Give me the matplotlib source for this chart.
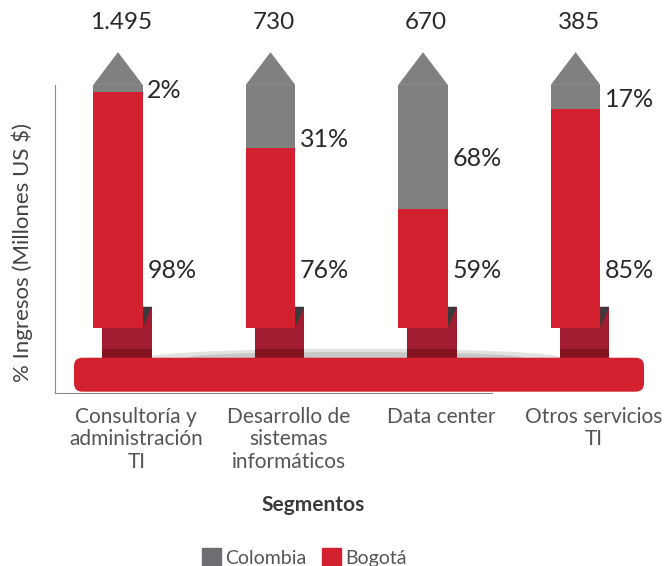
import matplotlib
matplotlib.use("Agg")
import matplotlib.pyplot as plt
from matplotlib.patches import Polygon, Rectangle, FancyBboxPatch, Ellipse
import numpy as np

# data
segments = ["Consultoría y\nadministración\nTI", "Desarrollo de\nsistemas\ninformáticos",
            "Data center", "Otros servicios\nTI"]
totals = ["1.495", "730", "670", "385"]
colombia_pct = [2, 31, 68, 17]
bogota_pct = [98, 76, 59, 85]
gray_share = [3, 26, 51, 10]      # drawn height of the gray part (% of bar body)

RED = "#D2202F"
GRAY = "#808080"
TXT = "#2a2a2a"

plt.rcParams['font.family'] = ['Lato', 'DejaVu Sans']

fig = plt.figure(figsize=(6.66, 5.66), dpi=100)
ax = fig.add_axes([55/666, (566-393)/566, (666-55)/666, 393/566])
ax.patch.set_visible(False)

# 1 x unit = 152.5 px, 1 y unit = 2.427 px
PXX, PXY = 152.5, 2.427
ax.set_xlim(-0.413, 3.593)
ax.set_ylim(-27, 135)

x = np.arange(len(segments))
w = 0.325
red_h = [100 - g for g in gray_share]

# shadow behind the base
ax.add_patch(Ellipse((1.554, -12.46), 2.7, 7.4, color="#e2e2e2", zorder=1, lw=0))
ax.add_patch(Ellipse((1.554, -12.46), 2.2, 4.8, color="#c8c8c8", zorder=1, lw=0))

for i in x:
    # foot block
    bl = i - 16/PXX
    ax.add_patch(Rectangle((bl, -12.46), 49.7/PXX, 21.0, color="#A01C2E", zorder=2, lw=0))
    ax.add_patch(Rectangle((bl, -12.46), 49.7/PXX, 3.6, color="#85121F", zorder=2, lw=0))
    ax.add_patch(Polygon([(i + w/2, 8.56), (bl + 49.7/PXX, 8.56), (i + w/2, 0)],
                         closed=True, color="#3a3a3c", zorder=2, lw=0))
    # tip
    ax.add_patch(Polygon([(i - w/2, 100), (i, 113.5), (i + w/2, 100)],
                         closed=True, color=GRAY, zorder=3, lw=0))

ax.bar(x, red_h, w, color=RED, zorder=3)
ax.bar(x, gray_share, w, bottom=red_h, color=GRAY, zorder=3)

# base bar
ax.add_patch(FancyBboxPatch((-0.2885, -26.46), 3.7375, 14.0,
                            boxstyle="round,pad=0,rounding_size=0.055",
                            mutation_aspect=PXX/PXY, color=RED, zorder=4, lw=0))

col_y = [97.8, 77.7, 69.8, 94.1]
for i in x:
    ax.text(i + 0.02, 125.9, totals[i], ha="center", va="center", fontsize=17.5, color=TXT)
    ax.text(i + w/2 + 0.03, col_y[i], "%d%%" % colombia_pct[i], ha="left", va="center",
            fontsize=18, color=TXT)
    ax.text(i + w/2 + 0.03, 23.3, "%d%%" % bogota_pct[i], ha="left", va="center",
            fontsize=18, color=TXT)

ax.set_xticks(x + 0.12)
ax.set_xticklabels(segments, fontsize=15, color="#555555", linespacing=1.15)
ax.tick_params(axis="x", length=0, pad=10)
ax.set_yticks([])
for s in ["top", "right"]:
    ax.spines[s].set_visible(False)
ax.spines["left"].set_bounds(-27, 100)
ax.spines["bottom"].set_bounds(-0.413, 2.45)
ax.spines["left"].set_color("#8a8a8a")
ax.spines["bottom"].set_color("#8a8a8a")

fig.text(22/666, 1 - 252/566, "% Ingresos (Millones US $)", rotation=90,
         ha="center", va="center", fontsize=16, color="#444444")
fig.text(313/666, 1 - 505/566, "Segmentos", ha="center", va="center",
         fontsize=15, fontweight="bold", color="#3a3a3a")

handles = [Rectangle((0, 0), 1, 1, color="#6D6E71"), Rectangle((0, 0), 1, 1, color=RED)]
fig.legend(handles, ["Colombia", "Bogotá"], loc="lower center", bbox_to_anchor=(0.457, -0.033),
           ncol=2, frameon=False, fontsize=14, handlelength=1.0, handleheight=1.1,
           handletextpad=0.2, columnspacing=0.8, labelcolor="#555555")

fig.savefig("out.png", dpi=100)
